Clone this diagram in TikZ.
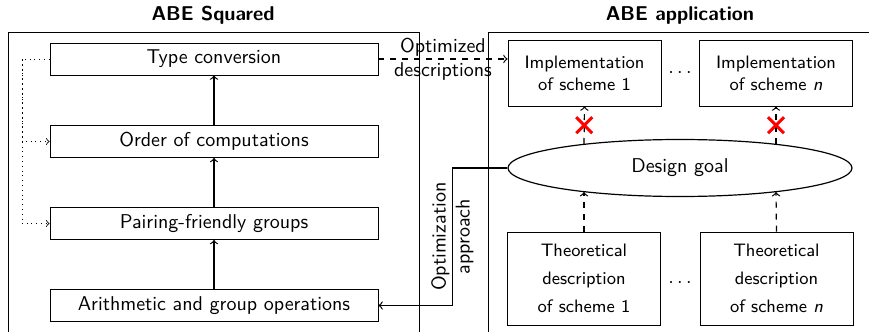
\documentclass[tikz,border=0pt]{standalone}
\usetikzlibrary{shapes.geometric,shapes.misc}
\renewcommand{\familydefault}{\sfdefault}
\tikzset{
  layer/.style={draw, minimum width=164pt, minimum height=16pt, inner sep=1pt},
  scheme/.style={draw, align=center, font=\small, minimum width=76.5pt, inner sep=1pt},
  blocked/.style={cross out, solid, draw=red, line width=1.5pt, minimum size=6.5pt, inner sep=0pt},
  frametitle/.style={font=\bfseries},
  link/.style={semithick},
}
\begin{document}
\begin{tikzpicture}[x=0.5pt, y=-0.5pt, >=to]
\useasboundingbox (0,0) rectangle (869,332);
% frames
\draw (8,340) -- (8,32) -- (419,32) -- (419,340);
\draw (488,340) -- (488,32) -- (880,32);
\node[frametitle] (sqtitle) at (213,15) {ABE Squared};
\node[frametitle] (apptitle) at (680,15) {ABE application};

% ABE Squared layers
\node[layer] (type) at (214,59) {Type conversion};
\node[layer] (order) at (214,141.5) {Order of computations};
\node[layer] (pair) at (214,223.5) {Pairing-friendly groups};
\node[layer] (arith) at (214,305.5) {Arithmetic and group operations};
\draw[link,->] (arith) -- (pair);
\draw[link,->] (pair) -- (order);
\draw[link,->] (order) -- (type);
\coordinate (bend) at (22,59);
\draw[dotted,->] (type.west) -- (bend) |- (pair.west);
\draw[dotted,->] (bend) |- (order.west);

% ABE application
\node[scheme, minimum height=33pt] (impl1) at (584.5,73) {Implementation\\of scheme 1};
\node[scheme, minimum height=33pt] (impln) at (776,73) {Implementation\\of scheme \textit{n}};
\node (idots) at (680,73) {$\cdots$};
\node[draw, semithick, ellipse, minimum width=172pt, minimum height=28.5pt] (goal) at (680,168) {Design goal};
\node[scheme, minimum height=46.5pt] (theo1) at (584,278.5) {Theoretical\\[3pt]description\\[3pt]of scheme 1};
\node[scheme, minimum height=46.5pt] (theon) at (776.5,278.5) {Theoretical\\[3pt]description\\[3pt]of scheme \textit{n}};
\node (tdots) at (680,283) {$\cdots$};
\coordinate (goal1s) at (584,192);
\coordinate (goalns) at (776,192);
\coordinate (goal1n) at (584,144);
\coordinate (goalnn) at (776,144);
\draw[link,dashed,->] (theo1.north) -- (goal1s);
\draw[link,dashed,->] (theon.north) -- (goalns);
\draw[link,dashed,->] (goal1n) -- node[blocked]{} (impl1.south);
\draw[link,dashed,->] (goalnn) -- node[blocked]{} (impln.south);

% between the frames
\draw[link,dashed,->] (type.east) -- node[align=center]{Optimized\\descriptions} (impl1.west |- type.east);
\draw[link,->] (goal.west) -- ++(-55,0) |- node[pos=0.25, rotate=90, align=center]{Optimization\\approach} (arith.east);
\end{tikzpicture}
\end{document}
